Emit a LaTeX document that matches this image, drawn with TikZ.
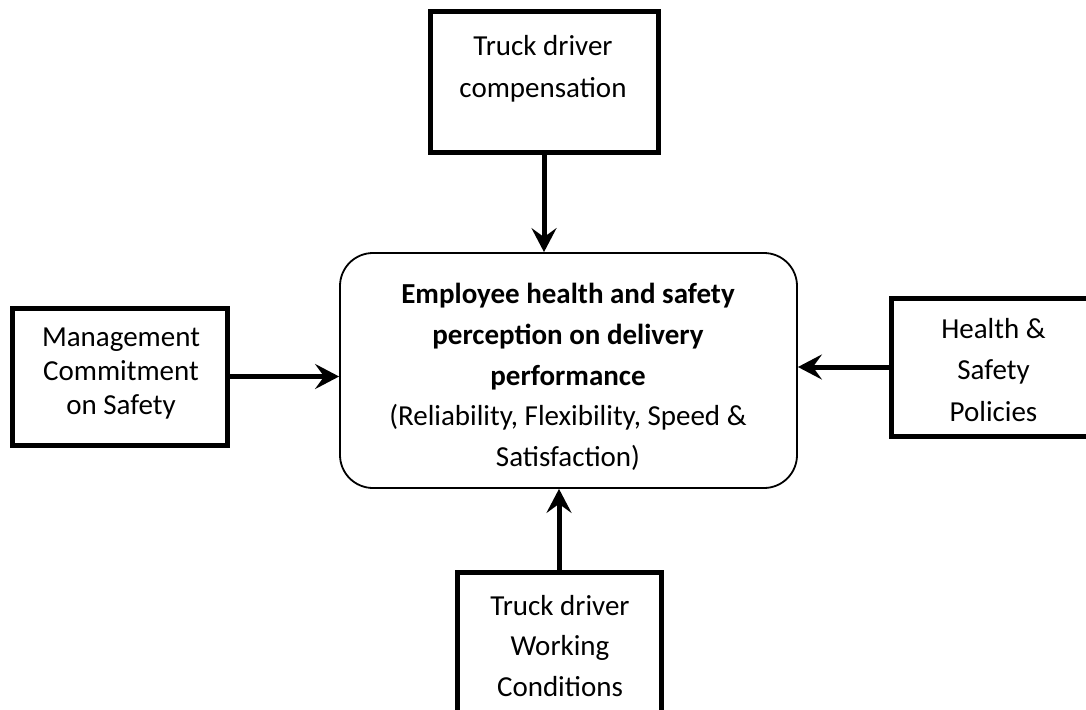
\documentclass[tikz,border=0pt]{standalone}
\usepackage{fontspec}
\setmainfont{Carlito}
\usetikzlibrary{arrows.meta,calc}
\tikzset{
  box/.style={draw=black, line width=5pt, rectangle, inner sep=0pt, fill=none},
  mainbox/.style={draw=black, line width=1.8pt, rectangle, rounded corners=33pt, inner sep=0pt},
  txt/.style={align=center, inner sep=0pt},
  arr/.style={line width=5pt, -{Stealth[length=24pt,width=25pt,inset=9pt]}}
}
\begin{document}
\begin{tikzpicture}[x=1pt,y=-1pt]
\clip (0,0) rectangle (1086,709);
\fill[white] (0,0) rectangle (1086,709);
% boxes
\node[box, minimum width=228pt, minimum height=140pt] (top) at (544,82) {};
\node[mainbox, minimum width=457pt, minimum height=235pt] (ctr) at (568.5,370.5) {};
\node[box, minimum width=215pt, minimum height=137pt] (lft) at (119.5,376.5) {};
\node[box, minimum width=204pt, minimum height=138pt] (rgt) at (993.5,367) {};
\node[box, minimum width=204pt, minimum height=148pt] (bot) at (559,646) {};
% texts
\node[txt, font=\fontsize{29}{42}\selectfont] (toptxt) at (543,69) {Truck driver\\compensation};
\node[txt, font=\fontsize{29}{34}\selectfont] (lfttxt) at (121,374) {Management\\Commitment\\on Safety};
\node[txt, font=\fontsize{29}{40.75}\selectfont] (ctrtxt) at (568,377) {\textbf{Employee health and safety}\\\textbf{perception on delivery}\\\textbf{performance}\\(Reliability, Flexibility, Speed \&\\Satisfaction)};
\node[txt, font=\fontsize{29}{41.5}\selectfont] (rgttxt) at (993.5,370) {Health \&\\Safety\\Policies};
\node[txt, font=\fontsize{29}{40.5}\selectfont] (bottxt) at (560,646) {Truck driver\\Working\\Conditions};
% arrows
\draw[arr] (top.south) -- (top.south |- ctr.north);
\draw[arr] (lft.east) -- (lft.east -| ctr.west);
\draw[arr] (rgt.west) -- (rgt.west -| ctr.east);
\draw[arr] (bot.north) -- (bot.north |- ctr.south);
\end{tikzpicture}
\end{document}
